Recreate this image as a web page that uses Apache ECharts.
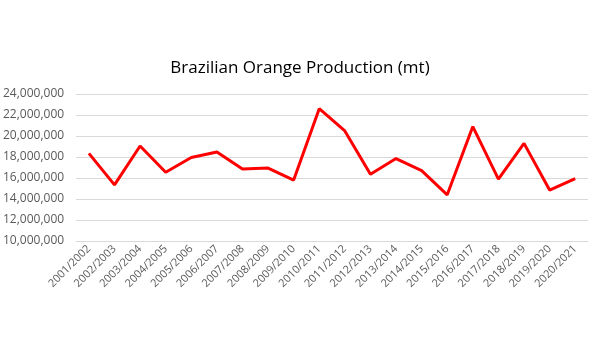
<!DOCTYPE html>
<html>
<head>
<meta charset="utf-8">
<script src="https://cdn.jsdelivr.net/npm/echarts@6/dist/echarts.min.js"></script>
<style>html,body{margin:0;padding:0;background:#fff;}#c{width:600px;height:351px;}</style>
</head>
<body>
<div id="c"></div>
<script>
const categories = ["2001/2002","2002/2003","2003/2004","2004/2005","2005/2006","2006/2007","2007/2008","2008/2009","2009/2010","2010/2011","2011/2012","2012/2013","2013/2014","2014/2015","2015/2016","2016/2017","2017/2018","2018/2019","2019/2020","2020/2021"];
const production = [18350000,15350000,19050000,16550000,17950000,18480000,16850000,16950000,15800000,22600000,20480000,16350000,17850000,16700000,14400000,20900000,15900000,19300000,14850000,15950000];
const yTicks = {min: 10000000, max: 24000000, interval: 2000000};

const chart = echarts.init(document.getElementById('c'), null, {renderer: 'canvas'});
chart.setOption({
  animation: false,
  backgroundColor: '#ffffff',
  title: {
    text: 'Brazilian Orange Production (mt)',
    left: 'center',
    top: 55,
    textStyle: {fontFamily: 'Open Sans', fontSize: 17, fontWeight: 'normal', color: '#000000'}
  },
  grid: {left: 76, right: 12, top: 94, bottom: 110, containLabel: false},
  xAxis: {
    type: 'category',
    data: categories,
    boundaryGap: true,
    axisLine: {lineStyle: {color: '#d9d9d9', width: 1}},
    axisTick: {show: false},
    axisLabel: {rotate: 45, color: '#595959', fontFamily: 'Open Sans', fontSize: 11, margin: 6, interval: 0}
  },
  yAxis: {
    type: 'value',
    min: yTicks.min,
    max: yTicks.max,
    interval: yTicks.interval,
    axisLine: {show: false},
    axisTick: {show: false},
    splitLine: {lineStyle: {color: '#d9d9d9', width: 1}},
    axisLabel: {
      color: '#595959', fontFamily: 'Open Sans', fontSize: 12, margin: 12,
      formatter: v => v.toLocaleString('en-US')
    }
  },
  series: [{
    type: 'line',
    data: production,
    symbol: 'none',
    lineStyle: {color: '#ff0000', width: 3},
    itemStyle: {color: '#ff0000'}
  }]
});
</script>
</body>
</html>
